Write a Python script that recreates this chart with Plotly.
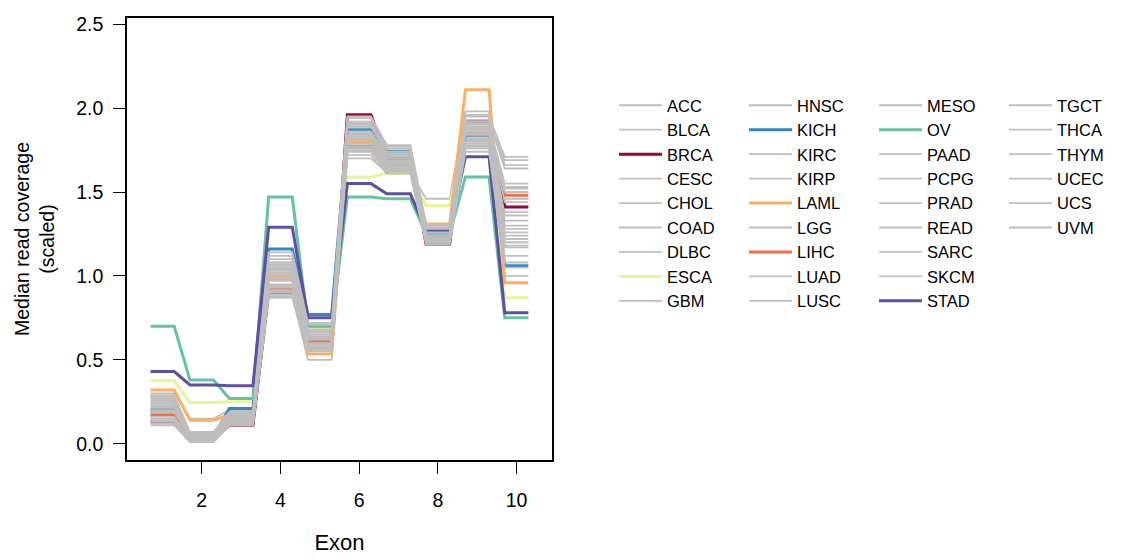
import plotly.graph_objects as go

exons = [1, 2, 3, 4, 5, 6, 7, 8, 9, 10]

cancers = ["ACC", "BLCA", "BRCA", "CESC", "CHOL", "COAD", "DLBC", "ESCA", "GBM",
           "HNSC", "KICH", "KIRC", "KIRP", "LAML", "LGG", "LIHC", "LUAD", "LUSC",
           "MESO", "OV", "PAAD", "PCPG", "PRAD", "READ", "SARC", "SKCM", "STAD",
           "TGCT", "THCA", "THYM", "UCEC", "UCS", "UVM"]

ACC  = [0.22, 0.04, 0.15, 1.02, 0.63, 1.85, 1.70, 1.25, 1.86, 1.38]
BLCA = [0.19, 0.03, 0.14, 0.98, 0.60, 1.82, 1.68, 1.23, 1.83, 1.30]
BRCA = [0.13, 0.02, 0.11, 0.90, 0.57, 1.96, 1.70, 1.19, 1.92, 1.41]
CESC = [0.25, 0.05, 0.16, 1.05, 0.66, 1.88, 1.72, 1.27, 1.90, 1.55]
CHOL = [0.28, 0.06, 0.18, 1.10, 0.69, 1.92, 1.75, 1.29, 1.93, 1.66]
COAD = [0.15, 0.02, 0.13, 0.92, 0.56, 1.78, 1.65, 1.22, 1.80, 1.20]
DLBC = [0.30, 0.15, 0.20, 0.88, 0.50, 1.70, 1.62, 1.46, 1.98, 1.00]
ESCA = [0.375, 0.245, 0.25, 1.08, 0.68, 1.59, 1.61, 1.42, 1.87, 0.87]
GBM  = [0.21, 0.04, 0.15, 1.00, 0.62, 1.84, 1.69, 1.24, 1.84, 1.33]
HNSC = [0.24, 0.05, 0.16, 1.04, 0.65, 1.87, 1.71, 1.26, 1.88, 1.46]
KICH = [0.20, 0.04, 0.21, 1.16, 0.77, 1.87, 1.74, 1.25, 1.84, 1.06]
KIRC = [0.17, 0.03, 0.13, 0.95, 0.58, 1.80, 1.67, 1.22, 1.82, 1.24]
KIRP = [0.18, 0.03, 0.14, 0.97, 0.59, 1.81, 1.66, 1.21, 1.81, 1.26]
LAML = [0.32, 0.14, 0.17, 0.99, 0.535, 1.80, 1.64, 1.31, 2.11, 0.96]
LGG  = [0.27, 0.06, 0.17, 1.08, 0.68, 1.90, 1.74, 1.28, 1.92, 1.64]
LIHC = [0.17, 0.05, 0.15, 0.93, 0.61, 1.77, 1.66, 1.24, 1.85, 1.48]
LUAD = [0.20, 0.04, 0.14, 0.99, 0.62, 1.83, 1.68, 1.23, 1.85, 1.28]
LUSC = [0.23, 0.05, 0.15, 1.03, 0.64, 1.86, 1.70, 1.25, 1.87, 1.36]
MESO = [0.26, 0.05, 0.17, 1.06, 0.67, 1.89, 1.73, 1.27, 1.89, 1.53]
OV   = [0.70, 0.38, 0.27, 1.47, 0.70, 1.47, 1.46, 1.25, 1.59, 0.75]
PAAD = [0.14, 0.02, 0.12, 0.90, 0.58, 1.76, 1.64, 1.20, 1.78, 1.17]
PCPG = [0.12, 0.01, 0.11, 0.89, 0.56, 1.74, 1.62, 1.20, 1.76, 1.12]
PRAD = [0.16, 0.03, 0.13, 0.94, 0.57, 1.79, 1.66, 1.21, 1.80, 1.22]
READ = [0.15, 0.02, 0.13, 0.93, 0.59, 1.77, 1.65, 1.22, 1.79, 1.18]
SARC = [0.22, 0.04, 0.16, 1.01, 0.63, 1.84, 1.70, 1.24, 1.86, 1.44]
SKCM = [0.29, 0.07, 0.19, 1.12, 0.71, 1.94, 1.77, 1.30, 1.95, 1.71]
STAD = [0.43, 0.35, 0.345, 1.29, 0.75, 1.55, 1.49, 1.27, 1.71, 0.78]
TGCT = [0.11, 0.01, 0.11, 0.87, 0.55, 1.72, 1.61, 1.19, 1.74, 1.05]
THCA = [0.26, 0.06, 0.18, 1.07, 0.68, 1.91, 1.76, 1.28, 1.91, 1.69]
THYM = [0.13, 0.02, 0.12, 0.91, 0.57, 1.75, 1.63, 1.20, 1.77, 1.08]
UCEC = [0.19, 0.04, 0.14, 0.98, 0.60, 1.82, 1.67, 1.23, 1.84, 1.50]
UCS  = [0.24, 0.05, 0.16, 1.04, 0.65, 1.86, 1.72, 1.26, 1.88, 1.52]
UVM  = [0.28, 0.06, 0.18, 1.14, 0.72, 1.95, 1.78, 1.31, 1.96, 1.20]

values = {c: globals()[c] for c in cancers}

highlight = {"BRCA": "#9E0142", "KICH": "#3288BD", "ESCA": "#E6F598",
             "LAML": "#FDAE61", "LIHC": "#F46D43", "OV": "#66C2A5",
             "STAD": "#5E4FA2"}
GRAY = "#BEBEBE"
HALF = 0.3  # half-width of each exon plateau

FONT = "Liberation Sans, Arial, Helvetica, sans-serif"

fig = go.Figure()
for i, c in enumerate(cancers):
    xs, ys = [], []
    for e, v in zip(exons, values[c]):
        xs += [e - HALF, e + HALF]
        ys += [v, v]
    col = highlight.get(c, GRAY)
    lw = 3 if c in highlight else 1.8
    leg = "legend" if i < 9 else ("legend%d" % (i // 9 + 1))
    fig.add_trace(go.Scatter(x=xs, y=ys, mode="lines", name=c,
                             line=dict(color=col, width=lw),
                             legend=leg))

# layout geometry (page body has an 8px default margin)
OFF = 8
PL, PR_, PT, PB = 127, 552, 18, 460   # plot box in page pixels
FW, FH = 1123 - OFF, 560 - OFF
L, T = PL - OFF, PT - OFF
R = FW - (PR_ - OFF)
B = FH - (PB - OFF)
PW, PH = PR_ - PL, PB - PT


def px2paper_x(px):
    return (px - PL) / PW


def px2paper_y(py):
    return 1 - (py - PT) / PH


legend_common = dict(font=dict(family=FONT, size=16.5, color="black"),
                     bgcolor="rgba(0,0,0,0)", borderwidth=0,
                     itemwidth=43, yanchor="top", xanchor="left",
                     tracegroupgap=0, itemclick=False)
LY = px2paper_y(88)
fig.update_layout(
    width=FW, height=FH,
    margin=dict(l=L, r=R, t=T, b=B),
    paper_bgcolor="white", plot_bgcolor="white",
    font=dict(family=FONT, size=19.5, color="black"),
    showlegend=True,
    legend=dict(x=px2paper_x(614), y=LY, **legend_common),
    legend2=dict(x=px2paper_x(744), y=LY, **legend_common),
    legend3=dict(x=px2paper_x(874), y=LY, **legend_common),
    legend4=dict(x=px2paper_x(1004), y=LY, **legend_common),
    xaxis=dict(range=[0.1, 10.9], tickvals=[2, 4, 6, 8, 10],
               ticks="outside", ticklen=12, tickwidth=1.3, tickcolor="black",
               ticklabelstandoff=10,
               showline=True, linecolor="black", linewidth=1.5, mirror=True,
               showgrid=False, zeroline=False,
               title=dict(text="Exon", standoff=24,
                          font=dict(family=FONT, size=22, color="black")),
               automargin=False),
    yaxis=dict(range=[-0.097, 2.537], tickvals=[0, 0.5, 1, 1.5, 2, 2.5],
               tickformat=".1f",
               ticks="outside", ticklen=12, tickwidth=1.3, tickcolor="black",
               ticklabelstandoff=6,
               showline=True, linecolor="black", linewidth=1.5, mirror=True,
               showgrid=False, zeroline=False,
               title=dict(text="Median read coverage<br>(scaled)", standoff=16,
                          font=dict(family=FONT, size=19.5, color="black")),
               automargin=False),
)

fig.write_html("out.html")
